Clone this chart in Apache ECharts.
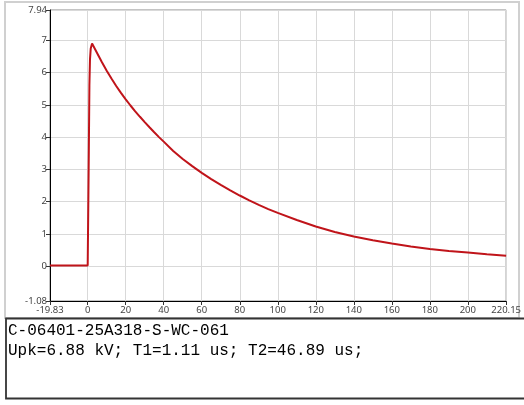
<!DOCTYPE html>
<html>
<head>
<meta charset="utf-8">
<script src="https://cdn.jsdelivr.net/npm/echarts@6/dist/echarts.min.js"></script>
<style>
html,body{margin:0;padding:0;background:#fff;}
#c{width:524px;height:405px;}
</style>
</head>
<body>
<div id="c"></div>
<script>
// Time (us) and voltage (kV)
const timeUs = [-19.83, -15, -10, -5, 0, 0.5, 0.6, 0.9, 1.2, 1.6, 2.3, 5, 7.5, 10, 12.5, 15, 17.5, 20, 22.5, 25, 27.5, 30, 32.5, 35, 37.5, 40, 45, 50, 55, 60, 65, 70, 75, 80, 85, 90, 95, 100, 110, 120, 130, 140, 150, 160, 170, 180, 190, 200, 210, 220.15];
const voltKv = [0.02, 0.02, 0.02, 0.02, 0.02, 0.02, 3.6, 5.6, 6.4, 6.75, 6.9, 6.6, 6.32, 6.06, 5.815, 5.585, 5.37, 5.17, 4.98, 4.8, 4.63, 4.465, 4.305, 4.15, 4.0, 3.86, 3.57, 3.32, 3.1, 2.89, 2.7, 2.52, 2.35, 2.19, 2.04, 1.9, 1.77, 1.65, 1.43, 1.23, 1.06, 0.92, 0.8, 0.7, 0.61, 0.53, 0.47, 0.42, 0.37, 0.32];
const xTicks = [-19.83, 0, 20, 40, 60, 80, 100, 120, 140, 160, 180, 200, 220.15];
const yTicks = [-1.08, 0, 1, 2, 3, 4, 5, 6, 7, 7.94];
const infoLines = ['C-06401-25A318-S-WC-061', 'Upk=6.88 kV; T1=1.11 us; T2=46.89 us;'];

const chart = echarts.init(document.getElementById('c'), null, {renderer: 'canvas'});
const labelStyle = {color: '#444', fontSize: 9.5, fontFamily: 'Noto Sans, sans-serif'};
chart.setOption({
  animation: false,
  backgroundColor: '#fff',
  graphic: [
    {type: 'rect', shape: {x: 5, y: 2, width: 514, height: 316}, style: {fill: 'none', stroke: '#d0d0d0', lineWidth: 2}, z: -10},
    {type: 'rect', shape: {x: 6, y: 318.5, width: 530, height: 80}, style: {fill: '#fff', stroke: '#333', lineWidth: 1.8}, z: 1},
    {type: 'text', left: 8, top: 323, style: {text: infoLines[0], font: '16px "Liberation Mono", monospace', fill: '#000'}, z: 2},
    {type: 'text', left: 8, top: 343, style: {text: infoLines[1], font: '16px "Liberation Mono", monospace', fill: '#000'}, z: 2}
  ],
  grid: {left: 50, top: 10, right: 13, bottom: 104, show: true, borderColor: '#888', borderWidth: 1, backgroundColor: '#fff'},
  xAxis: {
    type: 'value', min: xTicks[0], max: xTicks[xTicks.length - 1],
    axisLine: {show: true, onZero: false, lineStyle: {color: '#000', width: 1}},
    axisTick: {show: true, length: 4, customValues: xTicks, lineStyle: {color: '#333'}},
    axisLabel: {customValues: xTicks, margin: 4, ...labelStyle, formatter: v => String(v)},
    splitLine: {show: true, lineStyle: {color: '#d9d9d9', width: 1}}
  },
  yAxis: {
    type: 'value', min: yTicks[0], max: yTicks[yTicks.length - 1],
    axisLine: {show: true, onZero: false, lineStyle: {color: '#000', width: 1}},
    axisTick: {show: true, length: 4, customValues: yTicks, lineStyle: {color: '#333'}},
    axisLabel: {customValues: yTicks, margin: 3, ...labelStyle, formatter: v => String(v)},
    splitLine: {show: true, lineStyle: {color: '#d9d9d9', width: 1}}
  },
  series: [{
    type: 'line',
    data: timeUs.map((t, i) => [t, voltKv[i]]),
    showSymbol: false,
    smooth: false,
    lineStyle: {color: '#c0141a', width: 2},
    clip: true
  }]
});
</script>
</body>
</html>
